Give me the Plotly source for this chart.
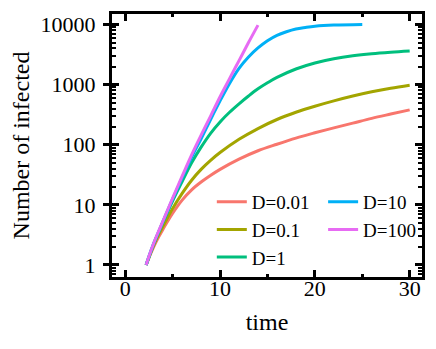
import plotly.graph_objects as go

# D = 0.01
t_d001 = [2.2, 2.5, 3, 3.5, 4, 5, 6, 7, 8, 9, 10, 12, 14, 16, 18, 20, 22, 24, 26, 28, 30]
n_d001 = [1, 1.32, 2.0, 2.88, 3.98, 7.24, 12.0, 17.8, 24.0, 30.9, 38.9, 57.5, 79.4, 102, 129, 158, 191, 229, 275, 324, 380]

# D = 0.1
t_d01 = [2.2, 2.5, 3, 3.5, 4, 5, 6, 7, 8, 9, 10, 12, 14, 16, 18, 20, 22, 24, 26, 28, 30]
n_d01 = [1, 1.35, 2.14, 3.16, 4.47, 8.7, 15.5, 25.7, 38.9, 55.0, 74.1, 123, 186, 263, 347, 437, 537, 646, 759, 871, 977]

# D = 1
t_d1 = [2.2, 2.5, 3, 3.5, 4, 5, 6, 7, 8, 9, 10, 11, 12, 13, 14, 15, 16, 18, 20, 22, 24, 26, 28, 30]
n_d1 = [1, 1.35, 2.24, 3.47, 5.25, 11.7, 24.5, 50.1, 91.2, 155, 240, 347, 479, 646, 851, 1072, 1318, 1820, 2291, 2692,
        3020, 3273, 3467, 3631]

# D = 10
t_d10 = [2.2, 2.5, 3, 3.5, 4, 5, 6, 7, 8, 9, 10, 11, 12, 13, 14, 15, 16, 17, 18, 19, 20, 22, 25]
n_d10 = [1, 1.4, 2.3, 3.5, 5.4, 12.6, 28, 62, 126, 263, 537, 1047, 1862, 2884, 4074, 5370, 6607, 7586, 8414, 8913,
         9333, 9772, 10000]

# D = 100
t_d100 = [2.2, 2.5, 3, 3.5, 4, 5, 6, 7, 8, 9, 10, 11, 12, 13, 14]
n_d100 = [1, 1.4, 2.3, 3.6, 5.5, 13, 30, 68, 145, 300, 630, 1260, 2510, 5010, 9770]

labels = ["D=0.01", "D=0.1", "D=1", "D=10", "D=100"]
colors = ["#F8766D", "#A3A500", "#00BF7D", "#00B0F6", "#E76BF3"]
series = [(t_d001, n_d001), (t_d01, n_d01), (t_d1, n_d1), (t_d10, n_d10), (t_d100, n_d100)]

y_ticks = [1, 10, 100, 1000, 10000]
y_ticktext = ["1", "10", "100", "1000", "10000"]

fig = go.Figure()
for i, (t, n) in enumerate(series):
    # the last two go on the overlay axes, which carry the inside / top / right ticks
    fig.add_trace(go.Scatter(
        x=t, y=n,
        mode='lines',
        name=labels[i],
        line=dict(color=colors[i], width=3, shape='spline'),
        xaxis='x' if i < 3 else 'x2',
        yaxis='y' if i < 3 else 'y2',
        legend='legend' if i < 3 else 'legend2',
    ))

font_family = "Liberation Serif, Times New Roman, serif"
x_range = [-1.4, 31.3]
y_range = [-0.2, 4.175]

# page body has an 8px margin, so the figure is 8px smaller each way
fig.update_layout(
    width=428,
    height=341,
    margin=dict(l=104, r=14, t=6, b=72),
    plot_bgcolor='white',
    paper_bgcolor='white',
    font=dict(family=font_family, size=22, color='black'),
    xaxis=dict(
        range=x_range,
        tick0=0, dtick=10,
        ticks='inside', ticklen=7, tickwidth=3, tickcolor='black',
        minor=dict(ticks='inside', ticklen=3, tickwidth=3, dtick=5, tickcolor='black'),
        showline=True, linewidth=3, linecolor='black', mirror=True,
        showgrid=False, zeroline=False, automargin=False,
        ticklabelstandoff=-10,
        title=dict(text='time', font=dict(family=font_family, size=24), standoff=13),
        tickfont=dict(family=font_family, size=22),
    ),
    xaxis2=dict(
        range=x_range,
        overlaying='x', side='top', anchor='y2',
        tick0=0, dtick=10,
        ticks='inside', ticklen=7, tickwidth=3, tickcolor='black',
        minor=dict(ticks='inside', ticklen=3, tickwidth=3, dtick=5, tickcolor='black'),
        showline=True, linewidth=3, linecolor='black',
        showticklabels=False, showgrid=False, zeroline=False, automargin=False,
    ),
    yaxis=dict(
        type='log',
        range=y_range,
        tickmode='array', tickvals=y_ticks, ticktext=y_ticktext,
        ticks='outside', ticklen=6, tickwidth=3, tickcolor='black',
        showline=True, linewidth=3, linecolor='black', mirror=True,
        showgrid=False, zeroline=False, automargin=False,
        ticklabelstandoff=3,
        title=dict(text='Number of infected', font=dict(family=font_family, size=24), standoff=8),
        tickfont=dict(family=font_family, size=22),
    ),
    yaxis2=dict(
        type='log',
        range=y_range,
        overlaying='y', side='left', anchor='x2',
        tickmode='array', tickvals=y_ticks,
        ticks='inside', ticklen=7, tickwidth=3, tickcolor='black',
        minor=dict(ticks='inside', ticklen=4, tickwidth=2, dtick='D1', tickcolor='black'),
        showline=True, linewidth=3, linecolor='black', mirror='allticks',
        showticklabels=False, showgrid=False, zeroline=False, automargin=False,
    ),
    legend=dict(
        x=0.322, y=0.358, xanchor='left', yanchor='top',
        bgcolor='rgba(0,0,0,0)', font=dict(family=font_family, size=19),
    ),
    legend2=dict(
        x=0.681, y=0.358, xanchor='left', yanchor='top',
        bgcolor='rgba(0,0,0,0)', font=dict(family=font_family, size=19),
    ),
)

fig.write_html("out.html")
